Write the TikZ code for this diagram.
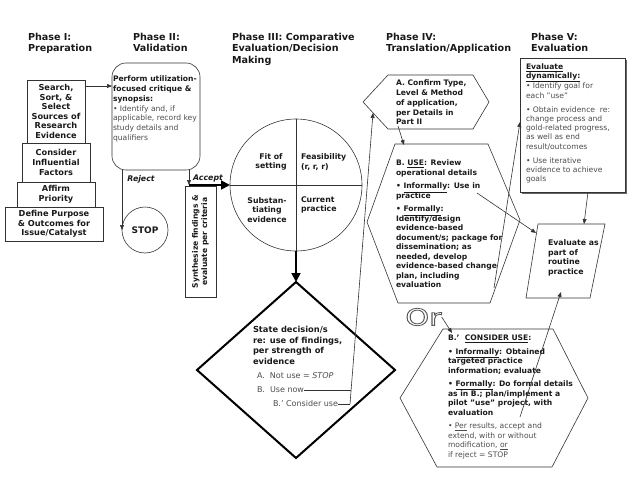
\documentclass[tikz,border=0pt]{standalone}
\usepackage{fontspec}
\usepackage{graphicx}
\setmainfont{DejaVu Sans}
\usetikzlibrary{arrows.meta,calc}
\newcommand\BT[1]{{\color{black!90}\bfseries #1}}
\newcommand\OutlineText[1]{\special{pdf:literal direct 1 Tr 0.8 w}#1\special{pdf:literal direct 0 Tr}}
\begin{document}
\begin{tikzpicture}[x=1pt,y=-1pt,
  every node/.style={inner sep=0pt, outer sep=0pt},
  hdr/.style={anchor=north west, align=left, text=black!90, font=\fontsize{9.6}{11.5}\selectfont\bfseries},
  btx/.style={align=left, text=black!90, font=\fontsize{7.6}{9.5}\selectfont\bfseries},
  ntx/.style={align=left, text=black!70, font=\fontsize{7.6}{9.5}\selectfont},
  pbox/.style={draw=black!80, line width=0.6pt, align=center, text=black!90, font=\fontsize{8.2}{9.6}\selectfont\bfseries},
  ln/.style={draw=black!80, line width=0.6pt},
  arr/.style={ln, -{Triangle[length=5pt,width=4pt]}},
  thk/.style={draw=black, line width=1.8pt, -{Triangle[length=9pt,width=9pt]}},
  lbl/.style={text=black!90, font=\fontsize{7.8}{9}\selectfont\bfseries\itshape},
]
\useasboundingbox (0,0) rectangle (638,479);

% headers
\node[hdr] (h1) at (28,33.2) {Phase I:\\Preparation};
\node[hdr] (h2) at (133,33.2) {Phase II:\\Validation};
\node[hdr] (h3) at (232,33.2) {Phase III: Comparative\\Evaluation/Decision\\Making};
\node[hdr] (h4) at (386,33.2) {Phase IV:\\Translation/Application};
\node[hdr] (h5) at (531,33.2) {Phase V:\\Evaluation};

% Phase I pyramid
\node[pbox, minimum width=58pt, minimum height=63pt] (b1) at (56,111.5) {Search,\\Sort, \&\\Select\\Sources of\\Research\\Evidence};
\node[pbox, minimum width=68pt, minimum height=39pt] (b2) at (56,162.5) {Consider\\Influential\\Factors};
\node[pbox, minimum width=78pt, minimum height=25pt] (b3) at (56,194.5) {Affirm\\Priority};
\node[pbox, minimum width=98pt, minimum height=34pt] (b4) at (54,224) {Define Purpose\\\& Outcomes for\\Issue/Catalyst};

% Phase II
\node[draw=black!80, line width=0.6pt, rounded corners=14pt, minimum width=88pt, minimum height=107pt] (p2) at (156,116.5) {};
\node[ntx, anchor=north west, font=\fontsize{7.6}{9.8}\selectfont] (p2t) at (113,76) {\BT{Perform utilization-}\\\BT{focused critique \&}\\\BT{synopsis:}\\• Identify and, if\\applicable, record key\\study details and\\qualifiers};
\coordinate (r86) at (0,86);
\draw[arr] (b1.east |- r86) -- (p2.west |- r86);

\node[pbox, circle, minimum size=46pt, font=\fontsize{9}{9}\selectfont\bfseries] (stop) at (145,230) {STOP};
\draw[arr] (p2.south -| stop.west) -- (stop.west);
\node[lbl] (rej) at (141,179) {Reject};

\node[draw=black!80, line width=0.6pt, minimum width=31pt, minimum height=111pt] (syn) at (200.5,241.5) {};
\node[btx, rotate=90, align=center, font=\fontsize{7.6}{9.3}\selectfont\bfseries] (synt) at (syn.center) {Synthesize findings \&\\evaluate per criteria};

% Phase III circle
\node[draw=black!80, line width=0.6pt, circle, minimum size=132pt] (circ) at (296,185) {};
\draw[ln] (circ.north) -- (circ.south);
\draw[ln] (circ.west) -- (circ.east);
\node[btx, align=center, font=\fontsize{7.8}{9.6}\selectfont\bfseries] (fit) at (271,162) {Fit of\\setting};
\node[btx, anchor=west, font=\fontsize{7.8}{9.6}\selectfont\bfseries] (fea) at (301,162) {Feasibility\\(r, r, r)};
\node[btx, align=center, font=\fontsize{7.8}{9.6}\selectfont\bfseries] (sub) at (267,210) {Substan-\\tiating\\evidence};
\node[btx, anchor=west, font=\fontsize{7.8}{9.6}\selectfont\bfseries] (cur) at (301,205) {Current\\practice};

\coordinate (acc) at (189,185);
\draw[arr] (p2.south -| acc) -- (acc);
\draw[thk] (acc) -- (circ.west);
\node[lbl] (acl) at (208,178) {Accept};

% diamond
\coordinate (dT) at (296,282);
\coordinate (dR) at (395,370);
\coordinate (dB) at (296,458);
\coordinate (dL) at (197,370);
\draw[black, line width=2pt, line join=miter] (dT) -- (dR) -- (dB) -- (dL) -- cycle;
\draw[thk] (circ.south) -- (dT);
\node[btx, anchor=north west, font=\fontsize{8.3}{10.5}\selectfont\bfseries] (dtx) at (253,326.5) {State decision/s\\re: use of findings,\\per strength of\\evidence};
\node[ntx, anchor=west, font=\fontsize{8}{9}\selectfont] (optA) at (257,376) {A.\hspace{5pt}Not use = \textit{STOP}};
\node[ntx, anchor=west, font=\fontsize{8}{9}\selectfont] (optB) at (257,390) {B.\hspace{5pt}Use now};
\node[ntx, anchor=west, font=\fontsize{8}{9}\selectfont] (optC) at (273,404) {B.’ Consider use};

% hexagon A
\coordinate (aL) at (363,102);
\coordinate (aTL) at (388,75);
\coordinate (aTR) at (473,75);
\coordinate (aR) at (489,102);
\coordinate (aBR) at (473,129);
\coordinate (aBL) at (388,129);
\draw[ln] (aL) -- (aTL) -- (aTR) -- (aR) -- (aBR) -- (aBL) -- cycle;
\node[btx, anchor=north west, font=\fontsize{7.6}{9.75}\selectfont\bfseries] (atx) at (396,80) {A. Confirm Type,\\Level \& Method\\of application,\\per Details in\\Part II};

\coordinate (j2) at (350,404);
\coordinate (aIn) at (373,113);
\draw[ln] (optC.east) -- (j2);
\draw[arr] (j2) -- (aIn);
\path ($(j2)!0.0481!(aIn)$) coordinate (jB);
\draw[ln] (optB.east) -- (optB.east -| jB);

% hexagon B
\coordinate (bTL) at (395,144);
\coordinate (bTR) at (488,144);
\coordinate (bR) at (520,220);
\coordinate (bBR) at (490,303);
\coordinate (bBL) at (398,303);
\coordinate (bL) at (367,222);
\draw[ln] (bL) -- (bTL) -- (bTR) -- (bR) -- (bBR) -- (bBL) -- cycle;
\coordinate (aOut) at (398,126);
\coordinate (bIn) at (404,145);
\draw[arr] (aOut) -- (bIn);
\node[btx, anchor=north west] (bt) at (396,160) {B. \underline{USE}: Review\\operational details\\[4pt]• \underline{Informally}: Use in\\practice\\[4pt]• \underline{Formally}:\\Identify/design\\evidence-based\\document/s; package for\\dissemination; as\\needed, develop\\evidence-based change\\plan, including\\evaluation};

% Phase V box
\draw[black!60, line width=1.2pt] (626.6,59.5) -- (626.6,193.6) -- (522,193.6);
\node[draw=black!80, line width=0.7pt, fill=white, minimum width=105pt, minimum height=134pt] (p5) at (572.5,125) {};
\node[ntx, anchor=north west, font=\fontsize{7.6}{9.3}\selectfont] (p5t) at (526,63.5) {\BT{\underline{Evaluate}}\\\BT{\underline{dynamically:}}\\• Identify goal for\\each "use"\\[4.5pt]• Obtain evidence\ \ re:\\change process and\\gold-related progress,\\as well as end\\result/outcomes\\[4.5pt]• Use iterative\\evidence to achieve\\goals};

% Evaluate parallelogram
\coordinate (eTL) at (538,224);
\coordinate (eTR) at (605,224);
\coordinate (eBR) at (590,298);
\coordinate (eBL) at (526,298);
\draw[ln] (eTL) -- (eTR) -- (eBR) -- (eBL) -- cycle;
\node[btx, anchor=north west, font=\fontsize{7.8}{9.7}\selectfont\bfseries] (et) at (548,239.5) {Evaluate as\\part of\\routine\\practice};

\coordinate (infS) at (477,193);
\coordinate (evIn) at (536,233);
\draw[arr] (infS) -- (evIn);
\coordinate (forS) at (494,288);
\coordinate (p5In) at (520,122);
\draw[arr] (forS) -- (p5In);
\coordinate (p5Out) at (588,192);
\coordinate (evTop) at (584,224);
\draw[arr] (p5Out) -- (evTop);

% Or
\node[text=black!65, font=\fontsize{23}{23}\selectfont] (or) at (423.5,317) {\scalebox{1.32}[1]{\OutlineText{Or}}};

% hexagon B'
\coordinate (pTL) at (443,329);
\coordinate (pTR) at (553,329);
\coordinate (pR) at (588,398);
\coordinate (pBR) at (552,467);
\coordinate (pBL) at (437,467);
\coordinate (pL) at (400,398);
\draw[ln] (pL) -- (pTL) -- (pTR) -- (pR) -- (pBR) -- (pBL) -- cycle;
\coordinate (bpIn) at (452,333);
\draw[arr] (or.east) -- (bpIn);
\node[ntx, anchor=north west] (pt) at (448,335) {\BT{B.’\ \ \underline{CONSIDER USE}:}\\[4pt]\BT{• \underline{Informally}: Obtained}\\\BT{targeted practice}\\\BT{information; evaluate}\\[4pt]\BT{• \underline{Formally}: Do formal details}\\\BT{as in B.; plan/implement a}\\\BT{pilot "use" project, with}\\\BT{evaluation}\\[4pt]• \underline{Per} results, accept and\\extend, with or without\\modification, \underline{or}\\if reject = STOP};

\coordinate (bpS) at (520,417);
\coordinate (evBot) at (561,292);
\draw[arr] (bpS) -- (evBot);
\end{tikzpicture}
\end{document}
